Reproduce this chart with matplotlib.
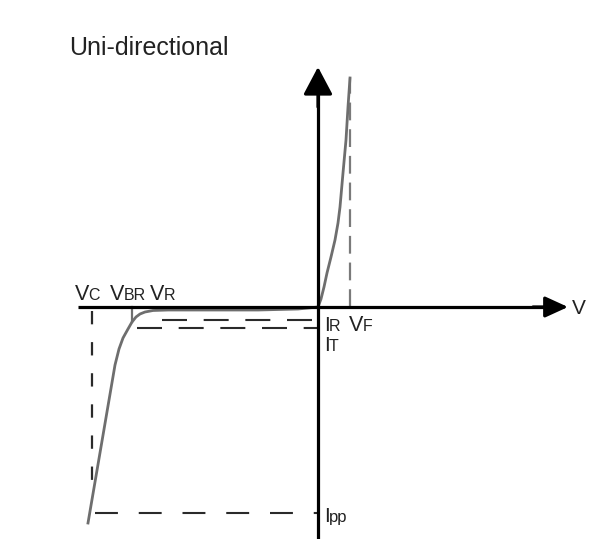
import matplotlib
matplotlib.use("Agg")
import matplotlib.pyplot as plt

# Coordinates: origin at the axis crossing, x to the right, y upward (schematic units)
fwd_v = [0, 3, 6, 9, 13, 17, 20, 22, 25, 28, 30, 32]
fwd_i = [0, 8, 20, 34, 50, 67, 84, 100, 134, 167, 200, 229]

rev_v = [0, -20, -60, -150, -165, -173, -178, -182, -186, -190, -195, -199, -203, -230]
rev_i = [0, -2, -3, -3, -3.5, -5, -7, -10, -15, -22, -31, -42, -58, -216]

v_f = 32          # forward voltage marker
v_c = -226        # clamping voltage marker
v_br = -186       # breakdown tick
i_r = -13
i_r_start = -156
i_t = -21
i_t_start = -181
i_pp = -206
i_pp_start = -223
v_c_end = -178

fig = plt.figure(figsize=(6.11, 5.39), dpi=100)
ax = fig.add_axes([0, 0, 1, 1])
ax.set_xlim(-318, 293)
ax.set_ylim(-232, 307)
ax.axis("off")

dash_col = "#2a2a2a"
curve_col = "#6e6e6e"
txt_col = "#222222"

# axes with arrows
ax.plot([0, 0], [-240, 225], color="black", lw=2.3, solid_capstyle="butt", zorder=3)
ax.annotate("", xy=(0, 240), xytext=(0, 200),
            arrowprops=dict(arrowstyle="-|>,head_length=0.85,head_width=0.45",
                            color="black", lw=2.3, mutation_scale=20,
                            shrinkA=0, shrinkB=0), zorder=4)
ax.plot([-240, 240], [0, 0], color="black", lw=2.3, solid_capstyle="butt", zorder=3)
ax.annotate("", xy=(250, 0), xytext=(215, 0),
            arrowprops=dict(arrowstyle="-|>,head_length=0.7,head_width=0.32",
                            color="black", lw=2.3, mutation_scale=20,
                            shrinkA=0, shrinkB=0), zorder=4)

# dashed guides
ax.plot([v_f, v_f], [0, fwd_i[-1]], color="#7a7a7a", lw=1.6, linestyle=(0, (8, 4)))
ax.plot([v_c, v_c], [-4, v_c_end], color=dash_col, lw=1.6, linestyle=(0, (6, 8)))
ax.plot([i_r_start, 0], [i_r, i_r], color=dash_col, lw=1.5, linestyle=(0, (12, 8)))
ax.plot([i_t_start, 0], [i_t, i_t], color=dash_col, lw=1.5, linestyle=(0, (12, 8)))
ax.plot([i_pp_start, 0], [i_pp, i_pp], color=dash_col, lw=1.5, linestyle=(0, (11, 10)))
ax.plot([v_br, v_br], [0, -15], color=curve_col, lw=1.6)

# curves
ax.plot(fwd_v, fwd_i, color=curve_col, lw=2.0, zorder=2)
ax.plot(rev_v, rev_i, color=curve_col, lw=2.0, zorder=2)

# title
ax.text(-249, 259, "Uni-directional", fontsize=18, color=txt_col,
        family="Liberation Sans", va="center", ha="left")

def lab(x, y, big, small, bs=15.5, ss=11.5):
    t = ax.text(x, y, big, fontsize=bs, color=txt_col, family="Liberation Sans",
                ha="left", va="baseline")
    fig.canvas.draw()
    bb = t.get_window_extent()
    inv = ax.transData.inverted()
    x2 = inv.transform((bb.x1, bb.y0))[0]
    ax.text(x2 - 1, y, small, fontsize=ss, color=txt_col, family="Liberation Sans",
            ha="left", va="baseline")

lab(-243, 7, "V", "C")
lab(-208, 7, "V", "BR")
lab(-168, 7, "V", "R")
lab(6, -24, "I", "R", bs=15, ss=11.5)
lab(31, -24, "V", "F", bs=15.5, ss=11.5)
lab(6, -44, "I", "T", bs=15, ss=11.5)
lab(6, -215, "I", "pp", bs=15, ss=12)
ax.text(254, -1, "V", fontsize=15, color=txt_col, family="Liberation Sans",
        ha="left", va="center")

fig.savefig("out.png", dpi=100, facecolor="white")
